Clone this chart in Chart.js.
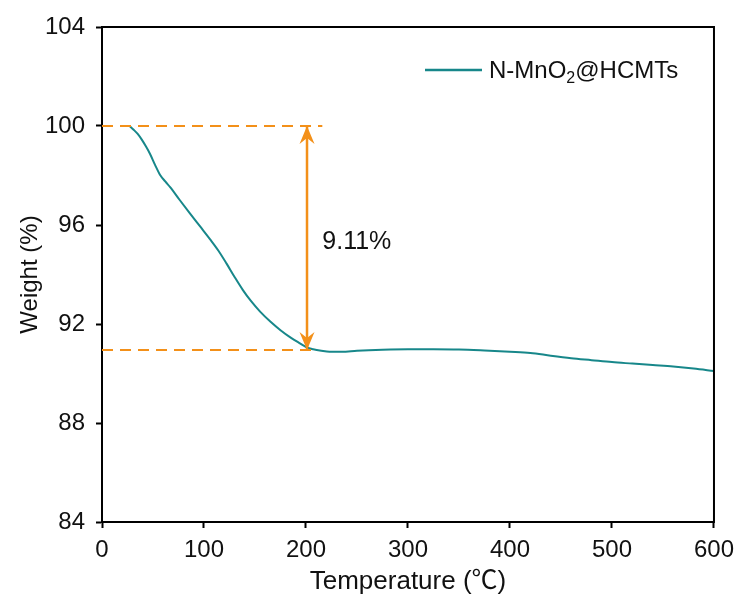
<!DOCTYPE html>
<html>
<head>
<meta charset="utf-8">
<script src="https://cdn.jsdelivr.net/npm/chart.js@4/dist/chart.umd.min.js"></script>
<style>
  html, body { margin: 0; padding: 0; background: #fff; }
  #wrap { width: 742px; height: 606px; }
</style>
</head>
<body>
<div id="wrap"><canvas id="myChart" width="742" height="606"></canvas></div>
<script>
// TGA curve
const temps = [27, 31, 35, 39, 43, 47, 52, 57, 62, 67, 76, 86, 96, 106, 114, 122, 130, 138, 146, 155, 165,
  175, 185, 194, 201, 207, 215, 223, 235, 250, 275, 300, 325, 350, 375, 400, 420, 440, 460, 480, 500,
  520, 540, 560, 580, 600];
const weights = [100.0, 99.85, 99.68, 99.45, 99.18, 98.88, 98.43, 98.02, 97.76, 97.52, 97.02, 96.48, 95.95,
  95.42, 94.97, 94.45, 93.9, 93.38, 92.93, 92.5, 92.1, 91.75, 91.45, 91.22, 91.05, 90.98, 90.92, 90.88,
  90.88, 90.92, 90.96, 90.98, 90.98, 90.97, 90.93, 90.88, 90.83, 90.72, 90.62, 90.54, 90.46, 90.4,
  90.34, 90.28, 90.2, 90.1];

// guide lines and arrow
const topGuideX = [0, 216];
const topGuideY = [100, 100];
const lowGuideX = [0, 205];
const lowGuideY = [90.95, 90.95];
const arrowX = [201, 201];
const arrowY = [100, 90.95];
const lossLabel = "9.11%";
const lossLabelPos = [216, 95.3];

const xTicks = [0, 600, 100];
const yTicks = [84, 104, 4];

const teal = "#17878a";
const orange = "#f39019";
const textColor = "#111";
const font = "'Liberation Sans', Arial, 'Noto Sans CJK SC', sans-serif";

function pts(xs, ys) {
  return xs.map((x, i) => ({ x: x, y: ys[i] }));
}

const extras = {
  id: "extras",
  afterDraw(chart) {
    const ctx = chart.ctx;
    const a = chart.chartArea;
    const sx = chart.scales.x;
    const sy = chart.scales.y;
    ctx.save();
    // frame top + right
    ctx.strokeStyle = "#000";
    ctx.lineWidth = 2;
    ctx.beginPath();
    ctx.moveTo(a.left - 1, a.top);
    ctx.lineTo(a.right, a.top);
    ctx.lineTo(a.right, a.bottom + 1);
    ctx.stroke();

    // arrow heads
    const ax = sx.getPixelForValue(arrowX[0]);
    const heads = [[sy.getPixelForValue(arrowY[0]), 1], [sy.getPixelForValue(arrowY[1]), -1]];
    ctx.fillStyle = orange;
    heads.forEach(([y, d]) => {
      ctx.beginPath();
      ctx.moveTo(ax, y);
      ctx.lineTo(ax - 7.5, y + d * 18);
      ctx.lineTo(ax, y + d * 12);
      ctx.lineTo(ax + 7.5, y + d * 18);
      ctx.closePath();
      ctx.fill();
    });

    // label
    ctx.fillStyle = textColor;
    ctx.font = "25px " + font;
    ctx.textBaseline = "middle";
    ctx.textAlign = "left";
    ctx.fillText(lossLabel, sx.getPixelForValue(lossLabelPos[0]), sy.getPixelForValue(lossLabelPos[1]));

    // legend
    const lx = a.left + 323, ly = 70;
    ctx.strokeStyle = teal;
    ctx.lineWidth = 2.5;
    ctx.beginPath();
    ctx.moveTo(lx, ly);
    ctx.lineTo(lx + 57, ly);
    ctx.stroke();
    let tx = lx + 64;
    ctx.font = "24px " + font;
    ctx.fillText("N-MnO", tx, ly + 1);
    tx += ctx.measureText("N-MnO").width;
    ctx.font = "16px " + font;
    ctx.fillText("2", tx, ly + 9);
    tx += ctx.measureText("2").width;
    ctx.font = "24px " + font;
    ctx.fillText("@HCMTs", tx, ly + 1);
    ctx.restore();
  }
};

const ctx = document.getElementById("myChart").getContext("2d");
const myChart = new Chart(ctx, {
  type: "scatter",
  data: {
    datasets: [
      {
        label: "guide100",
        data: pts(topGuideX, topGuideY),
        showLine: true,
        borderColor: orange,
        borderWidth: 2,
        borderDash: [11, 7],
        pointRadius: 0,
      },
      {
        label: "guideLow",
        data: pts(lowGuideX, lowGuideY),
        showLine: true,
        borderColor: orange,
        borderWidth: 2,
        borderDash: [11, 7],
        pointRadius: 0,
      },
      {
        label: "arrow",
        data: pts(arrowX, arrowY),
        showLine: true,
        borderColor: orange,
        borderWidth: 2.5,
        pointRadius: 0,
      },
      {
        label: "N-MnO2@HCMTs",
        data: pts(temps, weights),
        showLine: true,
        borderColor: teal,
        borderWidth: 2,
        pointRadius: 0,
        cubicInterpolationMode: "monotone",
      },
    ],
  },
  options: {
    responsive: false,
    animation: false,
    layout: { padding: { left: 12, right: 28, top: 27, bottom: 5 } },
    scales: {
      x: {
        type: "linear",
        min: xTicks[0],
        max: xTicks[1],
        afterFit: (s) => { s.height = 79; },
        ticks: { stepSize: xTicks[2], color: textColor, padding: 8, font: { family: font, size: 24 } },
        grid: { drawOnChartArea: false, tickLength: 6, color: "#000", tickWidth: 2 },
        border: { color: "#000", width: 2 },
        title: { display: true, text: "Temperature (℃)", color: textColor, font: { family: font, size: 26 } },
      },
      y: {
        min: yTicks[0],
        max: yTicks[1],
        afterFit: (s) => { s.width = 90; },
        ticks: { stepSize: yTicks[2], color: textColor, padding: 11, font: { family: font, size: 24 } },
        grid: { drawOnChartArea: false, tickLength: 6, color: "#000", tickWidth: 2 },
        border: { color: "#000", width: 2 },
        title: { display: true, text: "Weight (%)", color: textColor, font: { family: font, size: 24 } },
      },
    },
    plugins: {
      legend: { display: false },
      tooltip: { enabled: false },
    },
  },
  plugins: [extras],
});
</script>
</body>
</html>
